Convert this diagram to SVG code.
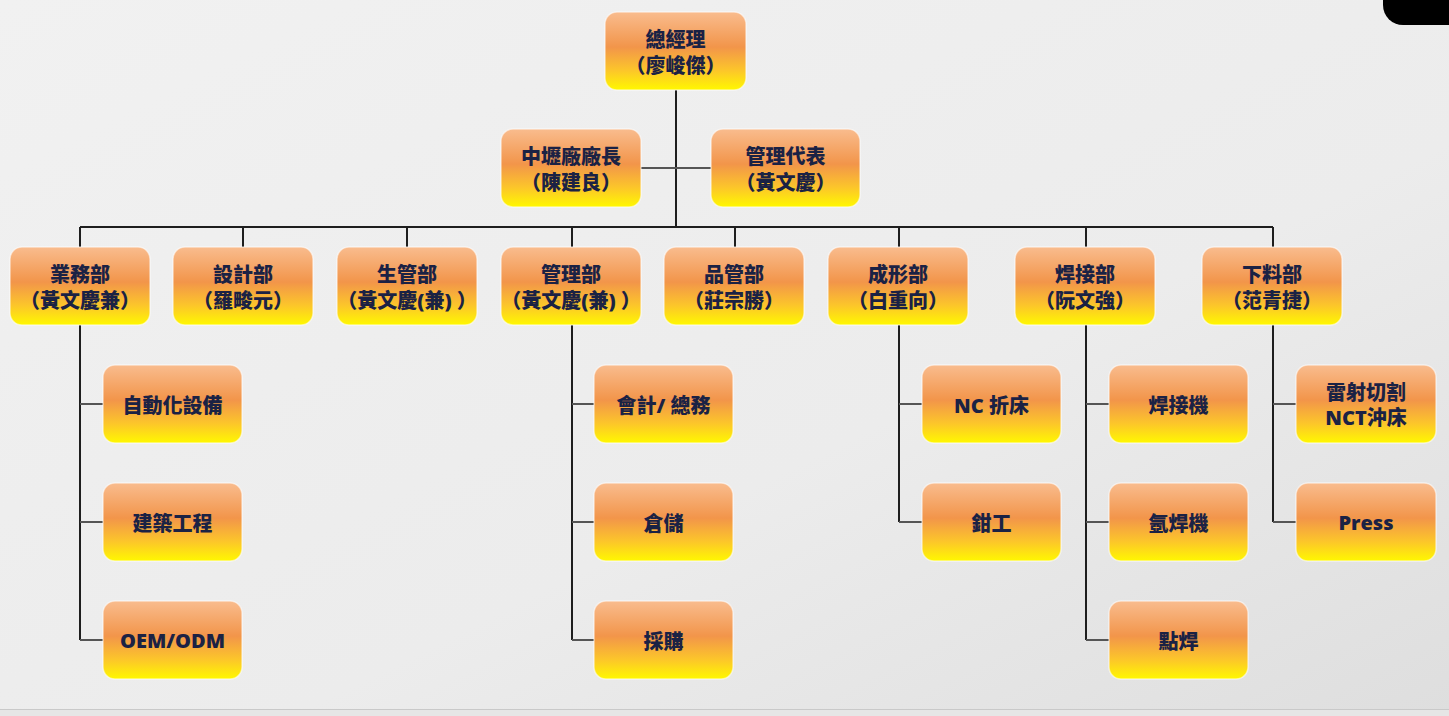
<svg xmlns="http://www.w3.org/2000/svg" width="1449" height="716" viewBox="0 0 1449 716">
<defs>
<linearGradient id="bg" x1="0" y1="0" x2="1" y2="1">
<stop offset="0" stop-color="#f1f1f1"/>
<stop offset="0.6" stop-color="#ececec"/>
<stop offset="1" stop-color="#dedede"/>
</linearGradient>
<linearGradient id="box" x1="0" y1="0" x2="0" y2="1">
<stop offset="0" stop-color="#f9bc8e"/>
<stop offset="0.45" stop-color="#f2954a"/>
<stop offset="0.75" stop-color="#fcc62a"/>
<stop offset="1" stop-color="#fff800"/>
</linearGradient>
</defs>
<style>
.b{fill:url(#box);stroke:#fff;stroke-opacity:0.55;stroke-width:1.5}
.t{font-family:"Open Sans","Noto Sans CJK TC","Noto Sans CJK SC",sans-serif;font-weight:900;font-size:20px;fill:#1b2244;text-anchor:middle;dominant-baseline:central}
.c{fill:none;stroke:#1e1e1e;stroke-width:2}
.s{fill:none;stroke:#555;stroke-width:2}
</style>
<rect x="0" y="0" width="1449" height="716" fill="url(#bg)"/>
<rect x="0" y="709" width="1449" height="7" fill="#e6e6e6"/>
<line x1="0" y1="709.5" x2="1449" y2="709.5" stroke="#c9c9c9" stroke-width="1"/>
<path d="M1383 0 H1449 V25 H1403 A20 20 0 0 1 1383 5 Z" fill="#000"/>

<g id="connectors">
<path class="c" d="M676 90 V227"/>
<path class="s" d="M641 168 H711"/>
<path class="c" d="M80 227 H1273"/>
<path class="c" d="M80 227 V247 M243 227 V247 M407 227 V247 M572 227 V247 M735 227 V247 M899 227 V247 M1086 227 V247 M1273 227 V247"/>
<path class="c" d="M80 325 V640"/>
<path class="s" d="M80 404 H103 M80 522 H103 M80 640 H103"/>
<path class="c" d="M572 325 V640"/>
<path class="s" d="M572 404 H594 M572 522 H594 M572 640 H594"/>
<path class="c" d="M899 325 V522"/>
<path class="s" d="M899 404 H922 M899 522 H922"/>
<path class="c" d="M1086 325 V640"/>
<path class="s" d="M1086 404 H1109 M1086 522 H1109 M1086 640 H1109"/>
<path class="c" d="M1273 325 V522"/>
<path class="s" d="M1273 404 H1296 M1273 522 H1296"/>
</g>

<g id="n-gm"><rect class="b" x="605" y="12" width="141" height="78" rx="12"/><text class="t" x="675.5" y="39">總經理</text><text class="t" x="675.5" y="65">（廖峻傑）</text></g>
<g id="n-plant"><rect class="b" x="501" y="129" width="140" height="78" rx="12"/><text class="t" x="571" y="156">中壢廠廠長</text><text class="t" x="571" y="182">（陳建良）</text></g>
<g id="n-rep"><rect class="b" x="711" y="129" width="149" height="78" rx="12"/><text class="t" x="785.5" y="156">管理代表</text><text class="t" x="785.5" y="182">（黃文慶）</text></g>

<g id="n-sales"><rect class="b" x="10" y="247" width="140" height="78" rx="12"/><text class="t" x="80" y="274">業務部</text><text class="t" x="80" y="300">（黃文慶兼）</text></g>
<g id="n-design"><rect class="b" x="173" y="247" width="140" height="78" rx="12"/><text class="t" x="243" y="274">設計部</text><text class="t" x="243" y="300">（羅畯元）</text></g>
<g id="n-prod"><rect class="b" x="337" y="247" width="140" height="78" rx="12"/><text class="t" x="407" y="274">生管部</text><text class="t" x="407" y="300">（黃文慶(兼) ）</text></g>
<g id="n-admin"><rect class="b" x="501" y="247" width="140" height="78" rx="12"/><text class="t" x="571" y="274">管理部</text><text class="t" x="571" y="300">（黃文慶(兼) ）</text></g>
<g id="n-qc"><rect class="b" x="664" y="247" width="140" height="78" rx="12"/><text class="t" x="734" y="274">品管部</text><text class="t" x="734" y="300">（莊宗勝）</text></g>
<g id="n-form"><rect class="b" x="828" y="247" width="140" height="78" rx="12"/><text class="t" x="898" y="274">成形部</text><text class="t" x="898" y="300">（白重向）</text></g>
<g id="n-weld"><rect class="b" x="1015" y="247" width="140" height="78" rx="12"/><text class="t" x="1085" y="274">焊接部</text><text class="t" x="1085" y="300">（阮文強）</text></g>
<g id="n-cut"><rect class="b" x="1202" y="247" width="140" height="78" rx="12"/><text class="t" x="1272" y="274">下料部</text><text class="t" x="1272" y="300">（范青捷）</text></g>

<g id="n-auto"><rect class="b" x="103" y="365" width="139" height="78" rx="12"/><text class="t" x="172.5" y="405">自動化設備</text></g>
<g id="n-build"><rect class="b" x="103" y="483" width="139" height="78" rx="12"/><text class="t" x="172.5" y="523">建築工程</text></g>
<g id="n-oem"><rect class="b" x="103" y="601" width="139" height="78" rx="12"/><text class="t" x="172.5" y="640">OEM/ODM</text></g>

<g id="n-acct"><rect class="b" x="594" y="365" width="139" height="78" rx="12"/><text class="t" x="663.5" y="405">會計/ 總務</text></g>
<g id="n-store"><rect class="b" x="594" y="483" width="139" height="78" rx="12"/><text class="t" x="663.5" y="523">倉儲</text></g>
<g id="n-buy"><rect class="b" x="594" y="601" width="139" height="78" rx="12"/><text class="t" x="663.5" y="641">採購</text></g>

<g id="n-nc"><rect class="b" x="922" y="365" width="139" height="78" rx="12"/><text class="t" x="991.5" y="405">NC 折床</text></g>
<g id="n-fit"><rect class="b" x="922" y="483" width="139" height="78" rx="12"/><text class="t" x="991.5" y="523">鉗工</text></g>

<g id="n-welder"><rect class="b" x="1109" y="365" width="139" height="78" rx="12"/><text class="t" x="1178.5" y="405">焊接機</text></g>
<g id="n-argon"><rect class="b" x="1109" y="483" width="139" height="78" rx="12"/><text class="t" x="1178.5" y="523">氬焊機</text></g>
<g id="n-spot"><rect class="b" x="1109" y="601" width="139" height="78" rx="12"/><text class="t" x="1178.5" y="641">點焊</text></g>

<g id="n-laser"><rect class="b" x="1296" y="365" width="140" height="78" rx="12"/><text class="t" x="1366" y="392">雷射切割</text><text class="t" x="1366" y="417">NCT沖床</text></g>
<g id="n-press"><rect class="b" x="1296" y="483" width="140" height="78" rx="12"/><text class="t" x="1366" y="522">Press</text></g>
</svg>
